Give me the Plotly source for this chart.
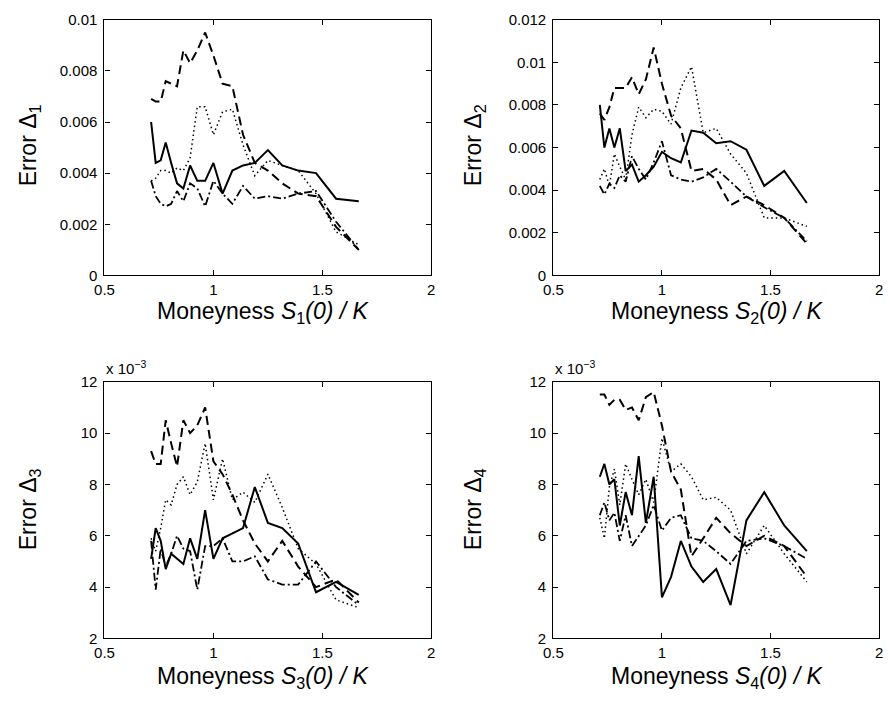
import plotly.graph_objects as go

W, H = 892, 704

# Moneyness grid S_i(0)/K
moneyness = [0.714, 0.735, 0.758, 0.781, 0.806, 0.833, 0.862, 0.893, 0.926, 0.962, 1.000,
             1.042, 1.087, 1.136, 1.190, 1.250, 1.316, 1.389, 1.471, 1.563, 1.667]

# Panel 1: Error Delta_1
p1_solid = [0.0060, 0.0044, 0.0045, 0.0052, 0.0044, 0.0036, 0.0034, 0.0043, 0.0037, 0.0037, 0.0044,
            0.0032, 0.0041, 0.0043, 0.0044, 0.0049, 0.0043, 0.0041, 0.0040, 0.0030, 0.0029]
p1_dash = [0.0069, 0.0068, 0.0068, 0.0076, 0.0075, 0.0074, 0.0088, 0.0083, 0.0088, 0.0095, 0.0086,
           0.0075, 0.0074, 0.0055, 0.0044, 0.0041, 0.0036, 0.0032, 0.0031, 0.0019, 0.0010]
p1_dot = [0.0037, 0.0038, 0.0041, 0.0041, 0.0040, 0.0042, 0.0041, 0.0046, 0.0066, 0.0066, 0.0055,
          0.0064, 0.0065, 0.0051, 0.0039, 0.0045, 0.0043, 0.0041, 0.0032, 0.0017, 0.0012]
p1_dashdot = [0.0037, 0.0031, 0.0028, 0.0027, 0.0028, 0.0033, 0.0029, 0.0036, 0.0034, 0.0027, 0.0037,
              0.0032, 0.0028, 0.0035, 0.0030, 0.0031, 0.0030, 0.0032, 0.0033, 0.0021, 0.0010]

# Panel 2: Error Delta_2
p2_solid = [0.0080, 0.0060, 0.0069, 0.0060, 0.0069, 0.0049, 0.0052, 0.0044, 0.0047, 0.0051, 0.0058,
            0.0055, 0.0053, 0.0068, 0.0067, 0.0062, 0.0063, 0.0059, 0.0042, 0.0049, 0.0034]
p2_dash = [0.0076, 0.0073, 0.0079, 0.0088, 0.0088, 0.0088, 0.0093, 0.0085, 0.0092, 0.0107, 0.0090,
           0.0075, 0.0069, 0.0049, 0.0050, 0.0045, 0.0033, 0.0037, 0.0033, 0.0027, 0.0015]
p2_dot = [0.0045, 0.0050, 0.0042, 0.0057, 0.0051, 0.0045, 0.0066, 0.0079, 0.0074, 0.0078, 0.0077,
          0.0071, 0.0088, 0.0098, 0.0067, 0.0069, 0.0057, 0.0048, 0.0027, 0.0027, 0.0023]
p2_dashdot = [0.0042, 0.0038, 0.0043, 0.0041, 0.0047, 0.0044, 0.0056, 0.0050, 0.0045, 0.0053, 0.0063,
              0.0047, 0.0045, 0.0044, 0.0046, 0.0050, 0.0044, 0.0037, 0.0032, 0.0027, 0.0016]

# Panel 3: Error Delta_3 (in units of 1e-3)
p3_solid = [5.1, 6.3, 5.8, 4.7, 5.3, 5.1, 4.9, 5.9, 5.1, 7.0, 5.1,
            5.9, 6.1, 6.3, 7.9, 6.5, 6.3, 5.7, 3.8, 4.2, 3.7]
p3_dash = [9.3, 8.8, 8.8, 10.5, 9.6, 8.7, 10.5, 10.0, 10.3, 11.0, 8.9,
           8.4, 7.6, 6.6, 5.7, 5.0, 5.8, 4.8, 4.0, 4.3, 3.4]
p3_dot = [5.9, 5.4, 6.3, 7.4, 7.2, 8.0, 8.3, 7.6, 8.1, 9.6, 7.4,
          9.0, 7.4, 7.7, 7.3, 8.4, 7.1, 5.5, 4.9, 3.5, 3.2]
p3_dashdot = [5.8, 3.9, 5.5, 4.8, 5.3, 6.0, 5.5, 5.4, 3.9, 5.6, 5.6,
              5.9, 5.0, 5.0, 5.2, 4.3, 4.1, 4.1, 5.0, 4.0, 3.3]

# Panel 4: Error Delta_4 (in units of 1e-3)
p4_solid = [8.3, 8.8, 8.0, 8.2, 6.4, 7.7, 6.8, 9.1, 6.5, 8.3, 3.6,
            4.4, 5.8, 4.8, 4.2, 4.7, 3.3, 6.6, 7.7, 6.4, 5.4]
p4_dash = [11.5, 11.5, 11.1, 11.3, 11.3, 10.9, 11.0, 10.5, 11.4, 11.6, 10.3,
           8.5, 7.8, 5.2, 5.9, 6.7, 6.1, 5.6, 6.0, 5.6, 4.4]
p4_dot = [6.7, 5.9, 7.9, 8.6, 7.2, 8.8, 8.2, 7.6, 8.2, 7.3, 9.8,
          8.5, 8.8, 8.3, 7.4, 7.5, 7.0, 5.3, 6.4, 5.3, 4.2]
p4_dashdot = [6.8, 7.3, 6.6, 6.9, 5.8, 6.8, 5.6, 6.0, 6.4, 7.2, 6.2,
              6.7, 6.8, 5.9, 5.8, 5.4, 4.9, 5.8, 5.9, 5.6, 5.1]

x_ticks = [0.5, 1, 1.5, 2]
x_ticktext = ["0.5", "1", "1.5", "2"]
y1_ticks = [0, 0.002, 0.004, 0.006, 0.008, 0.01]
y1_ticktext = ["0", "0.002", "0.004", "0.006", "0.008", "0.01"]
y2_ticks = [0, 0.002, 0.004, 0.006, 0.008, 0.01, 0.012]
y2_ticktext = ["0", "0.002", "0.004", "0.006", "0.008", "0.01", "0.012"]
y34_ticks = [2, 4, 6, 8, 10, 12]
y34_ticktext = ["2", "4", "6", "8", "10", "12"]

panels = [
    dict(series=[p1_solid, p1_dash, p1_dot, p1_dashdot], yr=[0, 0.01], yt=y1_ticks, ytt=y1_ticktext, idx=1),
    dict(series=[p2_solid, p2_dash, p2_dot, p2_dashdot], yr=[0, 0.012], yt=y2_ticks, ytt=y2_ticktext, idx=2),
    dict(series=[p3_solid, p3_dash, p3_dot, p3_dashdot], yr=[2, 12], yt=y34_ticks, ytt=y34_ticktext, idx=3),
    dict(series=[p4_solid, p4_dash, p4_dot, p4_dashdot], yr=[2, 12], yt=y34_ticks, ytt=y34_ticktext, idx=4),
]

styles = [
    dict(dash="solid", width=2.0),
    dict(dash="9px,5px", width=2.0),
    dict(dash="1.5px,3px", width=1.5),
    dict(dash="8px,3px,2px,3px", width=1.8),
]

# plot-area pixel boxes (left, right, top, bottom)
boxes = {1: (96, 428, 11, 273), 2: (552, 883, 11, 273),
         3: (96, 428, 382, 645), 4: (552, 883, 382, 645)}

fig = go.Figure()
FONT = "Liberation Sans, Arial, Helvetica, sans-serif"

for p in panels:
    i = p["idx"]
    xa = "x" if i == 1 else f"x{i}"
    ya = "y" if i == 1 else f"y{i}"
    for s, st in zip(p["series"], styles):
        fig.add_trace(go.Scatter(x=moneyness, y=s, mode="lines", xaxis=xa, yaxis=ya,
                                 line=dict(color="black", width=st["width"], dash=st["dash"]),
                                 showlegend=False, hoverinfo="skip"))
    l, r, t, b = boxes[i]
    axcommon = dict(showgrid=False, zeroline=False, showline=True, linecolor="black", linewidth=1.3,
                    mirror="ticks", ticks="inside", ticklen=5, tickwidth=1, tickcolor="black",
                    ticklabeloverflow="allow",
                    tickfont=dict(family=FONT, size=15, color="black"))
    fig.update_layout(**{
        ("xaxis" if i == 1 else f"xaxis{i}"): dict(domain=[l / W, r / W], range=[0.5, 2],
                                                    tickvals=x_ticks, ticktext=x_ticktext,
                                                    ticklabelstandoff=0,
                                                    anchor=ya, **axcommon),
        ("yaxis" if i == 1 else f"yaxis{i}"): dict(domain=[1 - b / H, 1 - t / H], range=p["yr"],
                                                    tickvals=p["yt"], ticktext=p["ytt"],
                                                    ticklabelstandoff=3,
                                                    anchor=xa, **axcommon),
    })

ann = []
title_font = dict(family=FONT, size=23, color="black")
ylabels = {1: "Error Δ<sub>1</sub>", 2: "Error Δ<sub>2</sub>", 3: "Error Δ<sub>3</sub>", 4: "Error Δ<sub>4</sub>"}
xlabels = {i: f"Moneyness <i>S</i><sub>{i}</sub><i>(0) / K</i>" for i in range(1, 5)}
ypos = {1: (20, 140), 2: (472, 140), 3: (20, 513), 4: (472, 513)}
xpos = {1: (258, 311), 2: (719, 311), 3: (258, 685), 4: (719, 685)}
for i in range(1, 5):
    ann.append(dict(text=ylabels[i], xref="paper", yref="paper", x=ypos[i][0] / W, y=1 - ypos[i][1] / H,
                    xanchor="center", yanchor="middle", textangle=-90, showarrow=False, font=title_font))
    ann.append(dict(text=xlabels[i], xref="paper", yref="paper", x=xpos[i][0] / W, y=1 - xpos[i][1] / H,
                    xanchor="center", yanchor="middle", showarrow=False, font=title_font))
for xl in (96, 552):
    ann.append(dict(text="x 10<sup>−3</sup>", xref="paper", yref="paper", x=xl / W, y=1 - 379 / H,
                    xanchor="left", yanchor="bottom", showarrow=False,
                    font=dict(family=FONT, size=15, color="black")))

fig.update_layout(width=W, height=H, margin=dict(l=0, r=0, t=0, b=0),
                  paper_bgcolor="white", plot_bgcolor="white", annotations=ann)

fig.write_html("out.html", config={"displayModeBar": False},
               post_script="document.body.style.margin='0';")
